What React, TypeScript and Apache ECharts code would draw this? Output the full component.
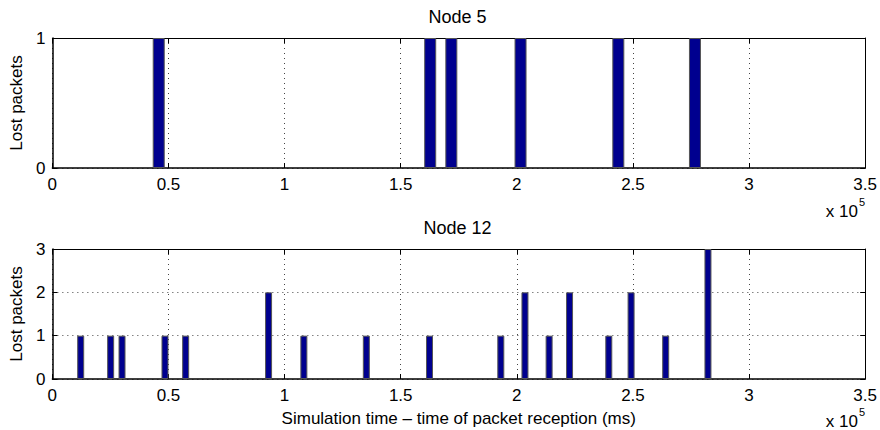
import React, { useEffect, useRef } from "react";
import * as echarts from "echarts";

const node5Times = [45800, 162700, 171800, 201600, 243700, 276700];
const node5Lost = [1, 1, 1, 1, 1, 1];

const node12Times = [
  12200, 25100, 30000, 48500, 57400, 93100, 108300, 135200, 162400,
  193100, 203500, 213900, 222700, 239600, 249200, 264100, 282300,
];
const node12Lost = [1, 1, 1, 1, 1, 2, 1, 1, 1, 1, 2, 1, 2, 1, 2, 1, 3];

const titles = ["Node 5", "Node 12"];
const xLabel = "Simulation time \u2013 time of packet reception (ms)";
const yLabel = "Lost packets";

const FONT = "'Liberation Sans', Arial, Helvetica, sans-serif";
const BAR_COLOR = "#00008f";

export default function App() {
  const ref = useRef<HTMLDivElement>(null);
  useEffect(() => {
    if (!ref.current) return;
    const chart = echarts.init(ref.current, undefined, { renderer: "svg" });
    const left = 47;
    const right = 12;
    const tops = [38, 249];
    const h = 130;
    const fmt = (v: number) => String(v / 1e5);
    const splitLine = {
      show: true,
      lineStyle: { color: "#444", type: [1, 4] as any, width: 1 },
    };
    const xBottom = (gi: number, showName: boolean) => ({
      type: "value",
      gridIndex: gi,
      position: "bottom",
      min: 0,
      max: 350000,
      interval: 50000,
      axisLine: { show: true, onZero: false, lineStyle: { color: "#000", width: 1.5 } },
      axisTick: { show: true, inside: true, length: 5, lineStyle: { color: "#000" } },
      axisLabel: { formatter: fmt, color: "#000", fontSize: 17, fontFamily: FONT, margin: 8 },
      splitLine,
      name: showName ? xLabel : "",
      nameLocation: "middle",
      nameGap: 31,
      nameTextStyle: { color: "#000", fontSize: 17, fontFamily: FONT },
    });
    const xTop = (gi: number) => ({
      type: "value",
      gridIndex: gi,
      position: "top",
      min: 0,
      max: 350000,
      interval: 50000,
      axisLine: { show: true, onZero: false, lineStyle: { color: "#000", width: 1 } },
      axisTick: { show: true, inside: true, length: 5, lineStyle: { color: "#000" } },
      axisLabel: { show: false },
      splitLine: { show: false },
    });
    const yLeft = (gi: number, max: number) => ({
      type: "value",
      gridIndex: gi,
      position: "left",
      min: 0,
      max,
      interval: 1,
      axisLine: { show: true, onZero: false, lineStyle: { color: "#000", width: 1.5 } },
      axisTick: { show: true, inside: true, length: 5, lineStyle: { color: "#000" } },
      axisLabel: { color: "#000", fontSize: 17, fontFamily: FONT, margin: 7 },
      splitLine,
      name: yLabel,
      nameLocation: "middle",
      nameGap: 21,
      nameRotate: 90,
      nameTextStyle: { color: "#000", fontSize: 17, fontFamily: FONT },
    });
    const yRight = (gi: number, max: number) => ({
      type: "value",
      gridIndex: gi,
      position: "right",
      min: 0,
      max,
      interval: 1,
      axisLine: { show: true, onZero: false, lineStyle: { color: "#000", width: 1 } },
      axisTick: { show: true, inside: true, length: 5, lineStyle: { color: "#000" } },
      axisLabel: { show: false },
      splitLine: { show: false },
    });
    const barStyle = { color: BAR_COLOR, borderColor: "#555", borderWidth: 1 };
    const expo = (y: number) => [
      {
        type: "text",
        right: 22,
        top: y,
        style: { text: "x 10", font: `17px ${FONT}`, fill: "#000" },
      },
      {
        type: "text",
        right: 15,
        top: y - 7,
        style: { text: "5", font: `11px ${FONT}`, fill: "#000" },
      },
    ];
    chart.setOption({
      animation: false,
      backgroundColor: "#fff",
      title: titles.map((t, i) => ({
        text: t,
        left: left + (880 - left - right) / 2,
        textAlign: "center",
        top: i === 0 ? 8 : 219,
        padding: 0,
        textStyle: { color: "#000", fontSize: 18, fontWeight: "normal", fontFamily: FONT },
      })),
      grid: tops.map((t) => ({
        left,
        right,
        top: t,
        height: h,
        show: false,
      })),
      xAxis: [xBottom(0, false), xTop(0), xBottom(1, true), xTop(1)],
      yAxis: [yLeft(0, 1), yRight(0, 1), yLeft(1, 3), yRight(1, 3)],
      series: [
        {
          type: "bar",
          xAxisIndex: 0,
          yAxisIndex: 0,
          barWidth: 12,
          itemStyle: barStyle,
          data: node5Times.map((t, i) => [t, node5Lost[i]]),
        },
        {
          type: "bar",
          xAxisIndex: 2,
          yAxisIndex: 2,
          barWidth: 7,
          itemStyle: barStyle,
          data: node12Times.map((t, i) => [t, node12Lost[i]]),
        },
      ],
      graphic: [...expo(203), ...expo(413)],
    });
    return () => chart.dispose();
  }, []);
  return (
    <div
      ref={ref}
      style={{ position: "fixed", left: 0, top: 0, width: 880, height: 430 }}
    />
  );
}
